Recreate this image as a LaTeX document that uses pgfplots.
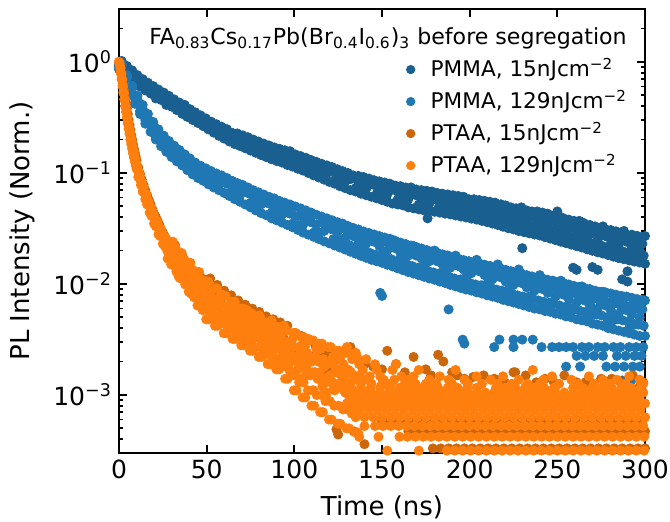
\documentclass[border=0pt]{standalone}
\usepackage{fontspec}
\setmainfont{DejaVu Sans}
\usepackage{pgfplots}
\pgfplotsset{compat=1.18}
\definecolor{cdb}{HTML}{195F90}
\definecolor{clb}{HTML}{1F77B4}
\definecolor{cdo}{HTML}{CC660B}
\definecolor{clo}{HTML}{FF7F0E}
\pgfplotsset{
  sdb/.style={only marks, mark=*, mark size=2.3pt, color=cdb},
  slb/.style={only marks, mark=*, mark size=2.3pt, color=clb},
  sdo/.style={only marks, mark=*, mark size=2.3pt, color=cdo},
  slo/.style={only marks, mark=*, mark size=2.3pt, color=clo},
}
\begin{document}
\begin{tikzpicture}
\begin{axis}[
  scale only axis, width=263pt, height=222pt,
  xmin=0, xmax=300, ymode=log, ymin=3e-4, ymax=3,
  xtick={0,50,100,150,200,250,300},
  ytick={1e-3,1e-2,1e-1,1},
  yticklabels={10\textsuperscript{−3},10\textsuperscript{−2},10\textsuperscript{−1},10\textsuperscript{0}},
  minor ytick={4e-4,5e-4,6e-4,7e-4,8e-4,9e-4,2e-3,3e-3,4e-3,5e-3,6e-3,7e-3,8e-3,9e-3,0.02,0.03,0.04,0.05,0.06,0.07,0.08,0.09,0.2,0.3,0.4,0.5,0.6,0.7,0.8,0.9,2},
  tick align=inside,
  major tick length=4pt, minor tick length=2.2pt,
  every tick/.style={black, line width=0.9pt},
  axis line style={line width=1pt},
  tick label style={font=\fontsize{12.5}{15}\selectfont},
  /pgf/number format/assume math mode=true,
  xlabel={Time (ns)}, ylabel={PL Intensity (Norm.)},
  label style={font=\fontsize{13}{15.6}\selectfont},
  xlabel style={at={(axis description cs:0.5,-0.1216)}, anchor=center},
  ylabel style={at={(axis description cs:-0.184,0.5)}, anchor=center},
  legend style={at={(rel axis cs:0.5466,0.8874)}, anchor=north west, draw=none, fill=none,
    inner sep=0pt, outer sep=0pt, font=\fontsize{10.8}{13}\selectfont,
    row sep=0pt, column sep=7.9pt,
    nodes={inner sep=0pt, text height=9pt, text depth=7pt}},
  legend cell align=left,
  legend image code/.code={\draw[#1, mark size=2.1pt] plot coordinates {(0pt,2.7pt)};},
]
% ---------------- PMMA 15 ----------------
\addplot[sdb] coordinates {
(0,0.97)(1.5,1.02)(3,0.83)(4.5,0.90)(6,0.77)(7.5,0.82)(9,0.67)(10.5,0.70)(12,0.63)(13.5,0.69)(15,0.56)(16.5,0.61)(18,0.57)(19.5,0.60)(21,0.47)(22.5,0.53)(24,0.47)(25.5,0.50)(27,0.41)(28.5,0.46)(30,0.40)(31.5,0.44)(33,0.37)(34.5,0.40)(36,0.375)(37.5,0.40)(39,0.32)(40.5,0.36)(42,0.31)(43.5,0.34)(45,0.29)(46.5,0.31)(48,0.29)(49.5,0.30)
(51,0.25)(52.5,0.28)(54,0.24)(55.5,0.26)(57,0.225)(58.5,0.24)(60,0.228)(61.5,0.245)(63,0.20)(64.5,0.22)(66,0.19)(67.5,0.21)(69,0.185)(70.5,0.20)(72,0.188)(73.5,0.20)(75,0.162)(76.5,0.18)(78,0.158)(79.5,0.17)(81,0.156)(82.5,0.17)(84,0.16)(85.5,0.165)(87,0.137)(88.5,0.152)(90,0.135)(91.5,0.145)(93,0.13)(94.5,0.14)(96,0.137)(97.5,0.14)(99,0.118)
(100.5,0.13)(102,0.115)(103.5,0.125)(105,0.112)(106.5,0.122)(108,0.12)(109.5,0.118)(111,0.1)(112.5,0.11)(114,0.1)(115.5,0.108)(117,0.095)(118.5,0.104)(120,0.102)(121.5,0.107)(123,0.086)(124.5,0.096)(126,0.087)(127.5,0.094)(129,0.084)(130.5,0.09)(132,0.088)(133.5,0.09)(135,0.073)(136.5,0.082)(138,0.075)(139.5,0.081)(141,0.072)(142.5,0.079)(144,0.08)(145.5,0.078)(147,0.065)(148.5,0.072)
(150,0.066)(151.5,0.073)(153,0.064)(154.5,0.07)(156,0.071)(157.5,0.07)(159,0.058)(160.5,0.065)(162,0.06)(163.5,0.067)(165,0.058)(166.5,0.064)(168,0.066)(169.5,0.063)(171,0.052)(172.5,0.059)(174,0.053)(175.5,0.061)(177,0.053)(178.5,0.058)(180,0.063)(181.5,0.057)(183,0.046)(184.5,0.053)(186,0.047)(187.5,0.056)(189,0.049)(190.5,0.054)(192,0.059)(193.5,0.052)(195,0.042)(196.5,0.049)(198,0.043)(199.5,0.052)
(201,0.045)(202.5,0.05)(204,0.055)(205.5,0.048)(207,0.038)(208.5,0.045)(210,0.039)(211.5,0.048)(213,0.041)(214.5,0.046)(216,0.05)(217.5,0.043)(219,0.034)(220.5,0.041)(222,0.035)(223.5,0.045)(225,0.038)(226.5,0.042)(228,0.047)(229.5,0.039)(231,0.031)(232.5,0.037)(234,0.032)(235.5,0.041)(237,0.034)(238.5,0.038)(240,0.043)(241.5,0.036)(243,0.028)(244.5,0.034)(246,0.029)(247.5,0.038)(249,0.031)
(250.5,0.035)(252,0.04)(253.5,0.032)(255,0.025)(256.5,0.031)(258,0.026)(259.5,0.035)(261,0.028)(262.5,0.031)(264,0.036)(265.5,0.029)(267,0.022)(268.5,0.028)(270,0.023)(271.5,0.032)(273,0.025)(274.5,0.029)(276,0.033)(277.5,0.027)(279,0.02)(280.5,0.025)(282,0.021)(283.5,0.029)(285,0.023)(286.5,0.026)(288,0.03)(289.5,0.024)(291,0.018)(292.5,0.022)(294,0.019)(295.5,0.026)(297,0.02)(298.5,0.023)(300,0.027)
(176,0.039)(218,0.052)(230,0.021)(250,0.045)(259,0.014)(261,0.0134)(270,0.0142)(273,0.0134)(287,0.011)(290,0.0105)(290,0.013)
};
\addlegendentry{PMMA, 15nJcm\textsuperscript{−2}}
\addplot[sdb, forget plot] coordinates {
(1.5,1.01)(4.5,.92)(7.5,.84)(10.5,.76)(13.5,.70)(16.5,.65)(19.5,.605)(22.5,.565)(25.5,.53)(28.5,.495)(31.5,.46)(34.5,.43)(37.5,.41)(40.5,.375)(43.5,.352)(46.5,.33)(49.5,.31)(52.5,.29)(55.5,.275)(58.5,.261)(61.5,.248)(64.5,.23)(67.5,.227)(70.5,.218)(73.5,.21)(76.5,.2)(79.5,.192)(82.5,.184)(85.5,.177)(88.5,.17)(91.5,.165)(94.5,.16)(97.5,.157)(100.5,.147)(103.5,.142)(106.5,.137)(109.5,.131)(112.5,.126)(115.5,.121)(118.5,.117)(121.5,.113)(124.5,.108)(127.5,.104)(130.5,.1)(133.5,.095)(136.5,.094)(139.5,.092)(142.5,.089)(145.5,.086)(148.5,.084)
(151.5,.082)(154.5,.08)(157.5,.077)(160.5,.076)(163.5,.074)(166.5,.074)(169.5,.071)(172.5,.07)(175.5,.069)(178.5,.068)(181.5,.066)(184.5,.065)(187.5,.064)(190.5,.063)(193.5,.062)(196.5,.061)(199.5,.058)(202.5,.058)(205.5,.057)(208.5,.056)(211.5,.055)(214.5,.054)(217.5,.052)(220.5,.051)(223.5,.049)(226.5,.048)(229.5,.049)(232.5,.046)(235.5,.045)(238.5,.045)(241.5,.044)(244.5,.043)(247.5,.041)(250.5,.04)(253.5,.039)(256.5,.038)(259.5,.037)(262.5,.037)(265.5,.035)(268.5,.034)(271.5,.033)(274.5,.032)(277.5,.031)(280.5,.0306)(283.5,.0298)(286.5,.029)(289.5,.0275)(292.5,.0278)(295.5,.0271)(298.5,.0266)
(0,.9)(3,.80)(6,.73)(9,.655)(12,.60)(15,.555)(18,.52)(21,.482)(24,.455)(27,.423)(30,.396)(33,.369)(36,.341)(39,.323)(42,.30)(45,.282)(48,.264)(51,.247)(54,.231)(57,.216)(60,.204)(63,.192)(66,.182)(69,.175)(72,.167)(75,.159)(78,.152)(81,.145)(84,.139)(87,.133)(90,.128)(93,.124)(96,.118)(99,.114)(102,.109)(105,.105)(108,.1)(111,.095)(114,.091)(117,.087)(120,.083)(123,.08)(126,.076)(129,.073)(132,.07)(135,.068)(138,.065)(141,.063)(144,.061)(147,.059)
(150,.057)(153,.055)(156,.053)(159,.052)(162,.051)(165,.049)(168,.048)(171,.047)(174,.046)(177,.0455)(180,.0447)(183,.0439)(186,.043)(189,.0423)(192,.0414)(195,.0405)(198,.0397)(201,.0388)(204,.038)(207,.037)(210,.036)(213,.035)(216,.034)(219,.0328)(222,.0318)(225,.031)(228,.03)(231,.0293)(234,.0286)(237,.0279)(240,.0273)(243,.0264)(246,.0256)(249,.0248)(252,.024)(255,.0233)(258,.0226)(261,.0219)(264,.0213)(267,.0205)(270,.0199)(273,.0193)(276,.0188)(279,.0182)(282,.0176)(285,.0171)(288,.0167)(291,.0163)(294,.0159)(297,.0156)(300,.0152)
(180.75,.0616)(183.75,.0605)(186.75,.0594)(189.75,.0582)(192.75,.0571)(195.75,.056)(198.75,.0549)(201.75,.0538)(204.75,.0526)(207.75,.0515)(210.75,.0504)(213.75,.0491)(216.75,.0476)(219.75,.0463)(222.75,.0448)(225.75,.0437)(228.75,.0426)(231.75,.0417)(234.75,.0409)(237.75,.04)(240.75,.0392)(243.75,.0381)(246.75,.037)(249.75,.0358)(252.75,.0347)(255.75,.0338)(258.75,.0328)(261.75,.0319)(264.75,.031)(267.75,.03)(270.75,.0291)(273.75,.0283)(276.75,.0276)(279.75,.0268)(282.75,.026)(285.75,.0252)(288.75,.0246)(291.75,.0241)(294.75,.0235)(297.75,.023)
(182.25,.0485)(185.25,.0476)(188.25,.0467)(191.25,.0458)(194.25,.0449)(197.25,.044)(200.25,.0431)(203.25,.0422)(206.25,.0413)(209.25,.0404)(212.25,.0395)(215.25,.0384)(218.25,.0372)(221.25,.0361)(224.25,.0351)(227.25,.0342)(230.25,.0334)(233.25,.0327)(236.25,.032)(239.25,.0313)(242.25,.0305)(245.25,.0296)(248.25,.0287)(251.25,.0278)(254.25,.027)(257.25,.0263)(260.25,.0256)(263.25,.0248)(266.25,.0241)(269.25,.0234)(272.25,.0227)(275.25,.0221)(278.25,.0215)(281.25,.0209)(284.25,.0202)(287.25,.0197)(290.25,.0193)(293.25,.0189)(296.25,.0184)(299.25,.018)
};
% ---------------- PMMA 129 ----------------
\addplot[slb] coordinates {
(0,0.93)(1.5,0.97)(3,0.74)(4.5,0.72)(6,0.56)(7.5,0.58)(9,0.47)(10.5,0.46)(12,0.36)(13.5,0.38)(15,0.30)(16.5,0.31)(18,0.27)(19.5,0.27)(21,0.21)(22.5,0.23)(24,0.19)(25.5,0.205)(27,0.165)(28.5,0.18)(30,0.155)(31.5,0.17)(33,0.138)(34.5,0.15)(36,0.135)(37.5,0.14)(39,0.112)(40.5,0.125)(42,0.105)(43.5,0.118)(45,0.1)(46.5,0.108)(48,0.1)(49.5,0.1)
(51,0.083)(52.5,0.095)(54,0.08)(55.5,0.091)(57,0.079)(58.5,0.086)(60,0.082)(61.5,0.08)(63,0.066)(64.5,0.075)(66,0.066)(67.5,0.073)(69,0.063)(70.5,0.069)(72,0.068)(73.5,0.066)(75,0.054)(76.5,0.062)(78,0.053)(79.5,0.06)(81,0.052)(82.5,0.057)(84,0.056)(85.5,0.053)(87,0.044)(88.5,0.05)(90,0.044)(91.5,0.05)(93,0.042)(94.5,0.047)(96,0.046)(97.5,0.043)(99,0.035)
(100.5,0.041)(102,0.034)(103.5,0.041)(105,0.034)(106.5,0.039)(108,0.04)(109.5,0.036)(111,0.029)(112.5,0.034)(114,0.029)(115.5,0.036)(117,0.03)(118.5,0.033)(120,0.035)(121.5,0.031)(123,0.025)(124.5,0.029)(126,0.025)(127.5,0.032)(129,0.026)(130.5,0.029)(132,0.031)(133.5,0.027)(135,0.021)(136.5,0.025)(138,0.021)(139.5,0.028)(141,0.023)(142.5,0.025)(144,0.028)(145.5,0.024)(147,0.018)(148.5,0.022)
(150,0.0185)(151.5,0.025)(153,0.02)(154.5,0.022)(156,0.025)(157.5,0.021)(159,0.016)(160.5,0.019)(162,0.0163)(163.5,0.022)(165,0.018)(166.5,0.02)(168,0.022)(169.5,0.018)(171,0.014)(172.5,0.017)(174,0.0145)(175.5,0.02)(177,0.016)(178.5,0.018)(180,0.02)(181.5,0.016)(183,0.0125)(184.5,0.015)(186,0.013)(187.5,0.018)(189,0.014)(190.5,0.016)(192,0.018)(193.5,0.0145)(195,0.011)(196.5,0.0135)(198,0.0115)(199.5,0.016)
(201,0.0125)(202.5,0.0145)(204,0.0165)(205.5,0.013)(207,0.0097)(208.5,0.012)(210,0.01)(211.5,0.0145)(213,0.011)(214.5,0.013)(216,0.015)(217.5,0.0115)(219,0.0085)(220.5,0.0105)(222,0.0088)(223.5,0.013)(225,0.0098)(226.5,0.0115)(228,0.0135)(229.5,0.0102)(231,0.0074)(232.5,0.0093)(234,0.0077)(235.5,0.0115)(237,0.0087)(238.5,0.0102)(240,0.012)(241.5,0.009)(243,0.0065)(244.5,0.0083)(246,0.0068)(247.5,0.0102)(249,0.0077)
(250.5,0.009)(252,0.0107)(253.5,0.008)(255,0.0057)(256.5,0.0073)(258,0.006)(259.5,0.009)(261,0.0068)(262.5,0.008)(264,0.0095)(265.5,0.0071)(267,0.005)(268.5,0.0065)(270,0.0053)(271.5,0.008)(273,0.006)(274.5,0.0071)(276,0.0085)(277.5,0.0064)(279,0.0044)(280.5,0.0058)(282,0.0047)(283.5,0.0072)(285,0.0054)(286.5,0.0064)(288,0.0077)(289.5,0.0058)(291,0.004)(292.5,0.0053)(294,0.0043)(295.5,0.0066)(297,0.005)(298.5,0.0059)(300,0.0071)
(149,0.0083)(150,0.0078)(188,0.0059)(197,0.0029)(269,0.0063)
(196,0.00315)(217,0.00315)(225,0.00315)(230,0.00315)(236,0.00315)
(214,0.0027)(225,0.0027)(241,0.0027)(247,0.0027)(251,0.0027)(255,0.0027)(259,0.0027)(264,0.0027)(268,0.0027)(273,0.0027)(277,0.0027)(282,0.0027)(286,0.0027)(291,0.0027)(295,0.0027)(299,0.0027)
(261,0.00225)(266,0.00225)(271,0.00225)(276,0.00225)(284,0.00225)(289,0.00225)(294,0.00225)(298,0.00225)
(255,0.0018)(263,0.0018)(278,0.0018)(283,0.0018)(288,0.0018)(293,0.0018)(297,0.0018)
(268,0.00135)(287,0.00135)(292,0.00135)(297,0.00135)
};
\addlegendentry{PMMA, 129nJcm\textsuperscript{−2}}
\addplot[slb, forget plot] coordinates {
(1.5,.93)(4.5,.76)(7.5,.61)(10.5,.495)(13.5,.41)(16.5,.34)(19.5,.288)(22.5,.247)(25.5,.217)(28.5,.194)(31.5,.176)(34.5,.161)(37.5,.147)(40.5,.135)(43.5,.124)(46.5,.116)(49.5,.11)(52.5,.104)(55.5,.099)(58.5,.095)(61.5,.09)(64.5,.085)(67.5,.081)(70.5,.078)(73.5,.074)(76.5,.07)(79.5,.067)(82.5,.064)(85.5,.061)(88.5,.059)(91.5,.056)(94.5,.054)(97.5,.052)(100.5,.05)(103.5,.048)(106.5,.046)(109.5,.044)(112.5,.042)(115.5,.0405)(118.5,.039)(121.5,.0375)(124.5,.036)(127.5,.035)(130.5,.0333)(133.5,.032)(136.5,.031)(139.5,.0297)(142.5,.0288)(145.5,.0279)(148.5,.027)
(151.5,.0262)(154.5,.0255)(157.5,.0245)(160.5,.0236)(163.5,.0229)(166.5,.0222)(169.5,.0215)(172.5,.0209)(175.5,.0202)(178.5,.0196)(181.5,.0191)(184.5,.0185)(187.5,.018)(190.5,.0174)(193.5,.0169)(196.5,.0164)(199.5,.016)(202.5,.0157)(205.5,.0153)(208.5,.0149)(211.5,.0145)(214.5,.0141)(217.5,.0138)(220.5,.0134)(223.5,.013)(226.5,.0127)(229.5,.0124)(232.5,.012)(235.5,.0117)(238.5,.0114)(241.5,.0112)(244.5,.0109)(247.5,.0107)(250.5,.0104)(253.5,.0102)(256.5,.0099)(259.5,.0096)(262.5,.0094)(265.5,.0092)(268.5,.009)(271.5,.0087)(274.5,.0085)(277.5,.0084)(280.5,.0082)(283.5,.008)(286.5,.0078)(289.5,.0077)(292.5,.0075)(295.5,.0073)(298.5,.0072)
(0,.86)(3,.68)(6,.53)(9,.42)(12,.34)(15,.278)(18,.235)(21,.2)(24,.174)(27,.155)(30,.139)(33,.127)(36,.117)(39,.106)(42,.097)(45,.09)(48,.085)(51,.079)(54,.074)(57,.07)(60,.066)(63,.062)(66,.058)(69,.055)(72,.052)(75,.049)(78,.046)(81,.0435)(84,.0416)(87,.039)(90,.0374)(93,.0357)(96,.034)(99,.0324)(102,.0307)(105,.029)(108,.0278)(111,.0266)(114,.0254)(117,.0242)(120,.0232)(123,.0222)(126,.0213)(129,.0204)(132,.0195)(135,.0187)(138,.0179)(141,.0172)(144,.0165)(147,.016)
(150,.0155)(153,.0149)(156,.0144)(159,.0138)(162,.0133)(165,.0128)(168,.0124)(171,.012)(174,.0116)(177,.0112)(180,.0109)(183,.0105)(186,.0102)(189,.0098)(192,.0095)(195,.0092)(198,.0089)(201,.0087)(204,.0084)(207,.0082)(210,.0079)(213,.0077)(216,.0075)(219,.0072)(222,.007)(225,.0068)(228,.0066)(231,.0064)(234,.0062)(237,.006)(240,.0059)(243,.0057)(246,.0056)(249,.0054)(252,.0053)(255,.0051)(258,.005)(261,.0048)(264,.0047)(267,.0046)(270,.0044)(273,.0043)(276,.0042)(279,.004)(282,.0039)(285,.0038)(288,.0037)(291,.0036)(294,.0035)(297,.0034)(300,.0034)
(120.75,.0352)(123.75,.0337)(126.75,.0325)(129.75,.0312)(132.75,.0299)(135.75,.0287)(138.75,.0275)(141.75,.0264)(144.75,.0255)(147.75,.0248)(150.75,.024)(153.75,.0231)(156.75,.0223)(159.75,.0215)(162.75,.0208)(165.75,.0201)(168.75,.0194)(171.75,.0188)(174.75,.0182)(177.75,.0176)(180.75,.0171)(183.75,.0165)(186.75,.016)(189.75,.0156)(192.75,.0151)(195.75,.0146)(198.75,.0142)(201.75,.0138)(204.75,.0135)(207.75,.0131)(210.75,.0127)(213.75,.0124)(216.75,.012)(219.75,.0117)(222.75,.0113)(225.75,.0111)(228.75,.0107)(231.75,.0105)(234.75,.0101)(237.75,.0099)(240.75,.0097)(243.75,.0094)(246.75,.0092)(249.75,.009)(252.75,.0087)(255.75,.0085)(258.75,.0083)(261.75,.008)(264.75,.0078)(267.75,.0077)(270.75,.0074)(273.75,.0072)(276.75,.0071)(279.75,.0068)(282.75,.0067)(285.75,.0065)(288.75,.0064)(291.75,.0063)(294.75,.006)(297.75,.0059)
(122.25,.0253)(125.25,.0243)(128.25,.0234)(131.25,.0224)(134.25,.0215)(137.25,.0207)(140.25,.0198)(143.25,.019)(146.25,.0184)(149.25,.0178)(152.25,.0173)(155.25,.0167)(158.25,.0161)(161.25,.0155)(164.25,.015)(167.25,.0145)(170.25,.0139)(173.25,.0135)(176.25,.0131)(179.25,.0127)(182.25,.0123)(185.25,.0119)(188.25,.0116)(191.25,.0112)(194.25,.0109)(197.25,.0105)(200.25,.0102)(203.25,.0099)(206.25,.0097)(209.25,.0094)(212.25,.0092)(215.25,.0089)(218.25,.0087)(221.25,.0084)(224.25,.0082)(227.25,.0079)(230.25,.0077)(233.25,.0075)(236.25,.0073)(239.25,.0071)(242.25,.0069)(245.25,.0067)(248.25,.0066)(251.25,.0064)(254.25,.0062)(257.25,.0061)(260.25,.0059)(263.25,.0057)(266.25,.0056)(269.25,.0055)(272.25,.0053)(275.25,.0052)(278.25,.005)(281.25,.0049)(284.25,.0048)(287.25,.0047)(290.25,.0046)(293.25,.0044)(296.25,.0043)(299.25,.0042)
};
% ---------------- PTAA 15 ----------------
\addplot[sdo] coordinates {
(0,1.0)(0.5,0.96)(1,0.88)(1.5,0.79)(2,0.70)(2.5,0.62)(3,0.55)(3.5,0.48)(4,0.43)(4.5,0.38)(5,0.34)(5.5,0.30)(6,0.27)(6.5,0.245)(7,0.22)(7.5,0.20)(8,0.18)(8.5,0.165)(9,0.152)(9.5,0.14)(10,0.13)(11,0.112)(12,0.098)(13,0.087)(14,0.078)(15,0.07)(16,0.063)(17,0.057)(18,0.052)(19,0.047)(20,0.043)(21,0.04)(22,0.037)(23,0.034)(24,0.031)(25,0.029)(26,0.027)(27,0.025)(28,0.0235)(29,0.022)(30,0.0205)
(32,0.0223)(34,0.0163)(36,0.0181)(38,0.0134)(40,0.0151)(42,0.0113)(44,0.0128)(46,0.0097)(48,0.0111)(50,0.0084)(52,0.0112)(54,0.0077)(56,0.0098)(58,0.0068)(60,0.0087)(62,0.0062)(64,0.0079)(66,0.0056)(68,0.0071)(70,0.0051)(72,0.0065)(74,0.0047)(76,0.006)(78,0.0044)(80,0.0056)(82,0.004)(84,0.0051)(86,0.0037)(88,0.0048)(90,0.0035)(92,0.0045)(94,0.0032)(96,0.0042)(98,0.003)(100,0.0036)(102,0.0026)(104,0.0034)(106,0.0024)(108,0.0031)(110,0.0022)(112,0.0028)(114,0.002)(116,0.0025)(118,0.0017)(120,0.0023)(122,0.0016)(124,0.0022)
(124,0.00049)(134,0.00047)(125,0.00044)(140,0.00036)
(132,0.0027)(153,0.0025)(168,0.0022)(182,0.0023)(185,0.002)(193,0.0015)(202,0.00145)(225,0.0016)(226,0.0016)(248,0.0013)(260,0.0012)(261,0.0013)(275,0.0014)
(128,0.0024)(136,0.0021)(140,0.0019)(145,0.0018)(150,0.0017)(158,0.0019)(163,0.0016)(175,0.0017)(178,0.0015)(190,0.0016)(197,0.0014)(208,0.0015)(214,0.0014)(220,0.0013)(232,0.0015)(238,0.0013)(243,0.0014)(254,0.0015)(266,0.0013)(270,0.0012)(281,0.0014)(286,0.0013)(293,0.0015)(297,0.0012)(299,0.0013)
(150,0.000585)(154.5,0.000585)(159,0.000585)(163.5,0.000585)(168,0.000585)(172.5,0.000585)(177,0.000585)(181.5,0.000585)(186,0.000585)(190.5,0.000585)(195,0.000585)(199.5,0.000585)(204,0.000585)(208.5,0.000585)(213,0.000585)(217.5,0.000585)(222,0.000585)(226.5,0.000585)(231,0.000585)(235.5,0.000585)(240,0.000585)(244.5,0.000585)(249,0.000585)(253.5,0.000585)(258,0.000585)(262.5,0.000585)(267,0.000585)(271.5,0.000585)(276,0.000585)(280.5,0.000585)(285,0.000585)(289.5,0.000585)(294,0.000585)(298.5,0.000585)
(165,0.00047)(169.5,0.00047)(174,0.00047)(178.5,0.00047)(183,0.00047)(187.5,0.00047)(192,0.00047)(196.5,0.00047)(201,0.00047)(205.5,0.00047)(210,0.00047)(214.5,0.00047)(219,0.00047)(223.5,0.00047)(228,0.00047)(232.5,0.00047)(237,0.00047)(241.5,0.00047)(246,0.00047)(250.5,0.00047)(255,0.00047)(259.5,0.00047)(264,0.00047)(268.5,0.00047)(273,0.00047)(277.5,0.00047)(282,0.00047)(286.5,0.00047)(291,0.00047)(295.5,0.00047)(300,0.00047)
(179,0.00033)(183.5,0.00033)(188,0.00033)(192.5,0.00033)(197,0.00033)(201.5,0.00033)(206,0.00033)(210.5,0.00033)(215,0.00033)(219.5,0.00033)(224,0.00033)(228.5,0.00033)(233,0.00033)(237.5,0.00033)(242,0.00033)(246.5,0.00033)(251,0.00033)(255.5,0.00033)(260,0.00033)(264.5,0.00033)(269,0.00033)(273.5,0.00033)(278,0.00033)(282.5,0.00033)(287,0.00033)(291.5,0.00033)(296,0.00033)(300,0.00033)
};
\addlegendentry{PTAA, 15nJcm\textsuperscript{−2}}
% ---------------- PTAA 129 ----------------
\addplot[slo] coordinates {
(0,1.0)(0.25,0.97)(0.5,0.92)(0.75,0.88)(1,0.80)(1.25,0.78)(1.5,0.70)(1.75,0.69)(2,0.61)(2.25,0.60)(2.5,0.53)(2.75,0.52)(3,0.46)(3.25,0.46)(3.5,0.40)(3.75,0.40)(4,0.355)(4.25,0.36)(4.5,0.315)(4.75,0.32)(5,0.28)(5.25,0.285)(5.5,0.25)(5.75,0.255)(6,0.225)(6.25,0.23)(6.5,0.20)(6.75,0.207)(7,0.182)(7.25,0.19)(7.5,0.165)(7.75,0.172)(8,0.15)(8.25,0.157)(8.5,0.138)(8.75,0.145)(9,0.127)(9.25,0.133)(9.5,0.117)(9.75,0.123)(10,0.109)
(10.5,0.112)(11,0.092)(11.5,0.098)(12,0.088)(12.5,0.078)(13,0.082)(13.5,0.068)(14,0.074)(14.5,0.066)(15,0.058)(15.5,0.064)(16,0.052)(16.5,0.056)(17,0.053)(17.5,0.044)(18,0.049)(18.5,0.041)(19,0.045)(19.5,0.043)(20,0.035)(20.5,0.039)(21,0.033)(21.5,0.037)(22,0.035)(22.5,0.028)(23,0.032)(23.5,0.027)(24,0.031)(24.5,0.029)(25,0.023)(25.5,0.027)(26,0.022)(26.5,0.026)(27,0.025)(27.5,0.02)(28,0.0225)(28.5,0.0195)(29,0.0225)(29.5,0.021)(30,0.0165)
(31,0.022)(32,0.0144)(33,0.0167)(34,0.0117)(35,0.0141)(36,0.0154)(37,0.0119)(38,0.0157)(39,0.0101)(40,0.0121)(41,0.0082)(42,0.0103)(43,0.0116)(44,0.0087)(45,0.012)(46,0.0075)(47,0.0093)(48,0.0062)(49,0.0079)(50,0.009)(51,0.0068)(52,0.0097)(53,0.0058)(54,0.0073)(55,0.0048)(56,0.0063)(57,0.0073)(58,0.0054)(59,0.008)(60,0.0046)(61,0.006)(62,0.0039)(63,0.0052)(64,0.0062)(65,0.0046)(66,0.0069)(67,0.0039)(68,0.0051)(69,0.0032)(70,0.0044)
(71,0.0053)(72,0.0038)(73,0.0058)(74,0.0033)(75,0.0044)(76,0.0028)(77,0.0038)(78,0.0047)(79,0.0033)(80,0.0052)(81,0.0028)(82,0.0039)(83,0.0023)(84,0.0033)(85,0.0041)(86,0.0029)(87,0.0047)(88,0.0025)(89,0.0034)(90,0.002)(91,0.0029)(92,0.0037)(93,0.0025)(94,0.0042)(95,0.0021)(96,0.003)(97,0.0017)(98,0.0026)(99,0.0032)(100,0.0022)
(101,0.0036)(102,0.0017)(103,0.0026)(104,0.0014)(105,0.0021)(106,0.0027)(107,0.0017)(108,0.0032)(109,0.0015)(110,0.002)(111,0.0011)(112,0.0016)(113,0.0021)(114,0.0014)(115,0.0026)(116,0.0012)(117,0.0018)(118,0.0009)(119,0.0014)(120,0.002)(121,0.0013)(122,0.0022)(123,0.0011)(124,0.0016)
(30.5,0.0171)(32.5,0.0179)(34.5,0.0122)(36.5,0.0134)(38.5,0.0108)(40.5,0.0132)(42.5,0.0096)(44.5,0.0107)(46.5,0.0071)(48.5,0.0082)(50.5,0.0067)(52.5,0.009)(54.5,0.0062)(56.5,0.0072)(58.5,0.0048)(60.5,0.0057)(62.5,0.0047)(64.5,0.0066)(66.5,0.0045)(68.5,0.0055)(70.5,0.0035)(72.5,0.0043)(74.5,0.0035)(76.5,0.0051)(78.5,0.0034)
(80.5,0.0043)(82.5,0.0026)(84.5,0.0034)(86.5,0.0028)(88.5,0.0042)(90.5,0.0028)(92.5,0.0035)(94.5,0.002)(96.5,0.0027)(98.5,0.0021)(100.5,0.0035)(102.5,0.0021)(104.5,0.0028)(106.5,0.0015)(108.5,0.0021)(110.5,0.0016)(112.5,0.0026)(114.5,0.0016)(116.5,0.0021)(118.5,0.00105)(120.5,0.0015)(122.5,0.00115)(124.5,0.0021)
};
\addlegendentry{PTAA, 129nJcm\textsuperscript{−2}}
\addplot[slo, forget plot] coordinates {
(27.75,.0169)(28.75,.0213)(29.75,.015)(30.75,.024)(31.75,.019)(28.25,.019)(29.25,.024)(30.25,.0169)(31.25,.015)(32.25,.0213)
(32.75,.0129)(33.75,.0167)(34.75,.0113)(35.75,.019)(36.75,.0147)(33.25,.0147)(34.25,.019)(35.25,.0129)(36.25,.0113)(37.25,.0167)
(37.75,.0099)(38.75,.0133)(39.75,.0085)(40.75,.0155)(41.75,.0115)(38.25,.0115)(39.25,.0155)(40.25,.0099)(41.25,.0085)(42.25,.0133)
(42.75,.0076)(43.75,.0108)(44.75,.0064)(45.75,.0128)(46.75,.009)(43.25,.009)(44.25,.0128)(45.25,.0076)(46.25,.0064)(47.25,.0108)
(47.75,.0058)(48.75,.0086)(49.75,.0048)(50.75,.0105)(51.75,.0071)(48.25,.0071)(49.25,.0105)(50.25,.0058)(51.25,.0048)(52.25,.0086)
(52.75,.0051)(53.75,.0075)(54.75,.0042)(55.75,.0091)(56.75,.0062)(53.25,.0062)(54.25,.0091)(55.25,.0051)(56.25,.0042)(57.25,.0075)
(57.75,.0044)(58.75,.0064)(59.75,.0036)(60.75,.0078)(61.75,.0053)(58.25,.0053)(59.25,.0078)(60.25,.0044)(61.25,.0036)(62.25,.0064)
(62.75,.0039)(63.75,.0057)(64.75,.0032)(65.75,.0069)(66.75,.0047)(63.25,.0047)(64.25,.0069)(65.25,.0039)(66.25,.0032)(67.25,.0057)
(67.75,.0034)(68.75,.005)(69.75,.0028)(70.75,.006)(71.75,.0041)(68.25,.0041)(69.25,.006)(70.25,.0034)(71.25,.0028)(72.25,.005)
(72.75,.003)(73.75,.0044)(74.75,.0025)(75.75,.0054)(76.75,.0037)(73.25,.0037)(74.25,.0054)(75.25,.003)(76.25,.0025)(77.25,.0044)
(77.75,.0027)(78.75,.004)(79.75,.0022)(80.75,.0049)(81.75,.0033)(78.25,.0033)(79.25,.0049)(80.25,.0027)(81.25,.0022)(82.25,.004)
(82.75,.0024)(83.75,.0036)(84.75,.0019)(85.75,.0045)(86.75,.0029)(83.25,.0029)(84.25,.0045)(85.25,.0024)(86.25,.0019)(87.25,.0036)
(87.75,.0021)(88.75,.0033)(89.75,.0017)(90.75,.0041)(91.75,.0026)(88.25,.0026)(89.25,.0041)(90.25,.0021)(91.25,.0017)(92.25,.0033)
(92.75,.0018)(93.75,.003)(94.75,.0014)(95.75,.0038)(96.75,.0023)(93.25,.0023)(94.25,.0038)(95.25,.0018)(96.25,.0014)(97.25,.003)
(97.75,.0015)(98.75,.0027)(99.75,.0011)(100.75,.0036)(101.75,.002)(98.25,.002)(99.25,.0036)(100.25,.0015)(101.25,.0011)(102.25,.0027)
(102.75,.0013)(103.75,.0024)(104.75,.00095)(105.75,.0033)(106.75,.0018)(103.25,.0018)(104.25,.0033)(105.25,.0013)(106.25,.00095)(107.25,.0024)
(107.75,.0011)(108.75,.0022)(109.75,.0008)(110.75,.0031)(111.75,.0016)(108.25,.0016)(109.25,.0031)(110.25,.0011)(111.25,.0008)(112.25,.0022)
(112.75,.001)(113.75,.002)(114.75,.0007)(115.75,.0029)(116.75,.0014)(113.25,.0014)(114.25,.0029)(115.25,.001)(116.25,.0007)(117.25,.002)
(117.75,.00088)(118.75,.0019)(119.75,.0006)(120.75,.0027)(121.75,.0013)(118.25,.0013)(119.25,.0027)(120.25,.00088)(121.25,.0006)(122.25,.0019)
(122.75,.0008)(123.75,.0017)(124.75,.00055)(125.75,.0025)(126.75,.0012)(123.25,.0012)(124.25,.0025)(125.25,.0008)(126.25,.00055)(127.25,.0017)
(127.75,.00074)(128.75,.0016)(129.75,.0005)(130.75,.0024)(131.75,.0011)(128.25,.0011)(129.25,.0024)(130.25,.00074)(131.25,.0005)(132.25,.0016)
(132.75,.00068)(133.75,.0015)(134.75,.00046)(135.75,.0022)(136.75,.001)(133.25,.001)(134.25,.0022)(135.25,.00068)(136.25,.00046)(137.25,.0015)
(127,0.0024)(135,0.0024)(130,0.0027)(126,0.0021)(133,0.0021)(141,0.0021)(128,0.00189)(137,0.00189)(146,0.00189)(158,0.00189)
(125,0.00168)(131,0.00168)(139,0.00168)(147,0.00168)(156,0.00168)(171,0.00168)(192,0.00168)(236,0.00168)
(127,0.00147)(134,0.00147)(143,0.00147)(149,0.00147)(161,0.00147)(168,0.00147)(183,0.00147)(204,0.00147)(219,0.00147)(247,0.00147)(268,0.00147)(291,0.00147)
(129,0.00137)(136,0.00137)(140,0.00137)(151,0.00137)(157,0.00137)(165,0.00137)(177,0.00137)(188,0.00137)(197,0.00137)(212,0.00137)(228,0.00137)(242,0.00137)(258,0.00137)(276,0.00137)(284,0.00137)(297,0.00137)
(125,0.00126)(132,0.00126)(138,0.00126)(144,0.00126)(150,0.00126)(155,0.00126)(163,0.00126)(169,0.00126)(175,0.00126)(181,0.00126)(190,0.00126)(199,0.00126)(207,0.00126)(216,0.00126)(224,0.00126)(233,0.00126)(240,0.00126)(251,0.00126)(262,0.00126)(271,0.00126)(280,0.00126)(289,0.00126)(299,0.00126)
(127,0.00116)(132.5,0.00116)(138,0.00116)(143.5,0.00116)(149,0.00116)(154.5,0.00116)(160,0.00116)(165.5,0.00116)(171,0.00116)(176.5,0.00116)(182,0.00116)(187.5,0.00116)(193,0.00116)(198.5,0.00116)(204,0.00116)(215,0.00116)(220.5,0.00116)(226,0.00116)(231.5,0.00116)(237,0.00116)(242.5,0.00116)(248,0.00116)(259,0.00116)(264.5,0.00116)(270,0.00116)(275.5,0.00116)(281,0.00116)(286.5,0.00116)(292,0.00116)(297.5,0.00116)
(129,0.00105)(134,0.00105)(139,0.00105)(144,0.00105)(149,0.00105)(154,0.00105)(159,0.00105)(164,0.00105)(169,0.00105)(174,0.00105)(179,0.00105)(184,0.00105)(189,0.00105)(194,0.00105)(199,0.00105)(204,0.00105)(209,0.00105)(214,0.00105)(219,0.00105)(224,0.00105)(229,0.00105)(234,0.00105)(239,0.00105)(244,0.00105)(249,0.00105)(254,0.00105)(259,0.00105)(264,0.00105)(269,0.00105)(274,0.00105)(279,0.00105)(284,0.00105)(289,0.00105)(294,0.00105)(299,0.00105)
(131.5,0.000945)(136.5,0.000945)(141.5,0.000945)(146.5,0.000945)(151.5,0.000945)(156.5,0.000945)(161.5,0.000945)(166.5,0.000945)(171.5,0.000945)(176.5,0.000945)(181.5,0.000945)(186.5,0.000945)(191.5,0.000945)(196.5,0.000945)(201.5,0.000945)(206.5,0.000945)(211.5,0.000945)(216.5,0.000945)(221.5,0.000945)(226.5,0.000945)(231.5,0.000945)(236.5,0.000945)(241.5,0.000945)(246.5,0.000945)(251.5,0.000945)(256.5,0.000945)(261.5,0.000945)(266.5,0.000945)(271.5,0.000945)(276.5,0.000945)(281.5,0.000945)(286.5,0.000945)(291.5,0.000945)(296.5,0.000945)
(130,0.00084)(135,0.00084)(140,0.00084)(145,0.00084)(150,0.00084)(155,0.00084)(160,0.00084)(165,0.00084)(170,0.00084)(175,0.00084)(180,0.00084)(185,0.00084)(190,0.00084)(195,0.00084)(200,0.00084)(205,0.00084)(210,0.00084)(215,0.00084)(220,0.00084)(225,0.00084)(230,0.00084)(235,0.00084)(240,0.00084)(245,0.00084)(250,0.00084)(255,0.00084)(260,0.00084)(265,0.00084)(270,0.00084)(275,0.00084)(280,0.00084)(285,0.00084)(290,0.00084)(295,0.00084)(300,0.00084)
(132.5,0.000735)(137.5,0.000735)(142.5,0.000735)(147.5,0.000735)(152.5,0.000735)(157.5,0.000735)(162.5,0.000735)(167.5,0.000735)(172.5,0.000735)(177.5,0.000735)(182.5,0.000735)(187.5,0.000735)(192.5,0.000735)(197.5,0.000735)(202.5,0.000735)(207.5,0.000735)(212.5,0.000735)(217.5,0.000735)(222.5,0.000735)(227.5,0.000735)(232.5,0.000735)(237.5,0.000735)(242.5,0.000735)(247.5,0.000735)(252.5,0.000735)(257.5,0.000735)(262.5,0.000735)(267.5,0.000735)(272.5,0.000735)(277.5,0.000735)(282.5,0.000735)(287.5,0.000735)(292.5,0.000735)(297.5,0.000735)
(135,0.00063)(140,0.00063)(145,0.00063)(150,0.00063)(155,0.00063)(160,0.00063)(165,0.00063)(170,0.00063)(175,0.00063)(180,0.00063)(185,0.00063)(190,0.00063)(195,0.00063)(200,0.00063)(205,0.00063)(210,0.00063)(215,0.00063)(220,0.00063)(225,0.00063)(230,0.00063)(235,0.00063)(240,0.00063)(245,0.00063)(250,0.00063)(255,0.00063)(260,0.00063)(265,0.00063)(270,0.00063)(275,0.00063)(280,0.00063)(285,0.00063)(290,0.00063)(295,0.00063)(300,0.00063)
(140,0.000525)(146,0.000525)(150.5,0.000525)(155,0.000525)(159.5,0.000525)(164,0.000525)(168.5,0.000525)(173,0.000525)(177.5,0.000525)(182,0.000525)(186.5,0.000525)(191,0.000525)(195.5,0.000525)(200,0.000525)(204.5,0.000525)(209,0.000525)(213.5,0.000525)(218,0.000525)(222.5,0.000525)(227,0.000525)(231.5,0.000525)(236,0.000525)(240.5,0.000525)(245,0.000525)(249.5,0.000525)(254,0.000525)(258.5,0.000525)(263,0.000525)(267.5,0.000525)(272,0.000525)(276.5,0.000525)(281,0.000525)(285.5,0.000525)(290,0.000525)(294.5,0.000525)(299,0.000525)
(137,0.00042)(148,0.00042)(160,0.00042)(164.5,0.00042)(169,0.00042)(173.5,0.00042)(178,0.00042)(182.5,0.00042)(187,0.00042)(191.5,0.00042)(196,0.00042)(200.5,0.00042)(205,0.00042)(209.5,0.00042)(214,0.00042)(218.5,0.00042)(223,0.00042)(227.5,0.00042)(232,0.00042)(236.5,0.00042)(241,0.00042)(245.5,0.00042)(250,0.00042)(254.5,0.00042)(259,0.00042)(263.5,0.00042)(268,0.00042)(272.5,0.00042)(277,0.00042)(281.5,0.00042)(286,0.00042)(290.5,0.00042)(295,0.00042)(299.5,0.00042)
(153,0.000315)(171,0.000315)(187,0.000315)(191.5,0.000315)(196,0.000315)(200.5,0.000315)(205,0.000315)(209.5,0.000315)(214,0.000315)(218.5,0.000315)(223,0.000315)(227.5,0.000315)(232,0.000315)(236.5,0.000315)(241,0.000315)(245.5,0.000315)(250,0.000315)(254.5,0.000315)(259,0.000315)(263.5,0.000315)(268,0.000315)(272.5,0.000315)(277,0.000315)(281.5,0.000315)(286,0.000315)(290.5,0.000315)(295,0.000315)(299.5,0.000315)
};
\node[anchor=base east, inner sep=0pt, font=\fontsize{11.05}{13.2}\selectfont] at (rel axis cs:0.966,0.919) {FA\textsubscript{0.83}Cs\textsubscript{0.17}Pb(Br\textsubscript{0.4}I\textsubscript{0.6})\textsubscript{3} before segregation};
\coordinate (SW) at (rel axis cs:0,0);
\end{axis}
\pgfresetboundingbox
\path[use as bounding box] ([shift={(-59.5pt,-34.5pt)}]SW) rectangle ([shift={(275.5pt,226.5pt)}]SW);
\end{tikzpicture}
\end{document}
